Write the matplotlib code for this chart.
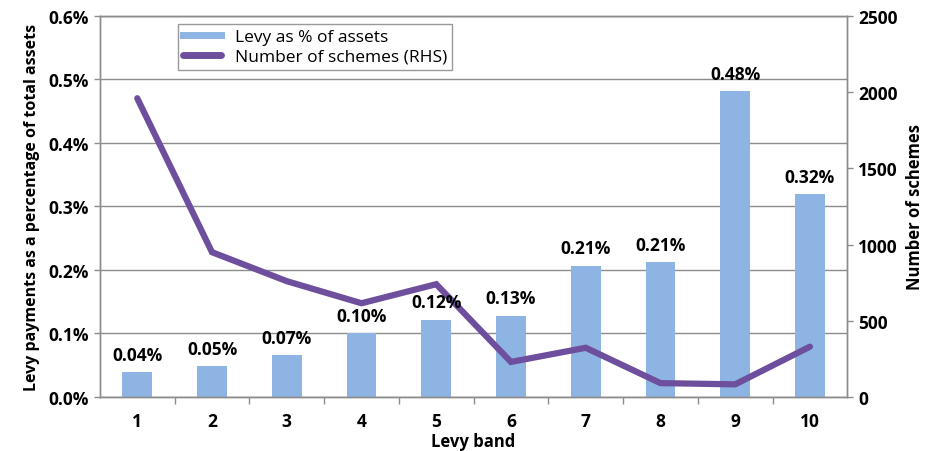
import matplotlib
matplotlib.use("Agg")
import matplotlib.pyplot as plt
from matplotlib.lines import Line2D
from matplotlib.ticker import FuncFormatter, FixedLocator, NullFormatter

plt.rcParams["font.family"] = ["Open Sans", "DejaVu Sans"]

# ── Data ──────────────────────────────────────────────────────
levy_bands = [1, 2, 3, 4, 5, 6, 7, 8, 9, 10]
levy_pct = [0.0395, 0.049, 0.066, 0.100, 0.122, 0.128, 0.207, 0.212, 0.482, 0.319]
num_schemes = [1960, 950, 760, 615, 740, 230, 323, 91, 83, 330]

BAR_COLOR = "#8DB4E2"
LINE_COLOR = "#6E4F9E"
GRID_COLOR = "#8C8C8C"
TICK_FS = 12.5

fig = plt.figure(figsize=(9.25, 4.52), dpi=100)
ax = fig.add_axes([0.108, 0.1195, 0.808, 0.843])
ax2 = ax.twinx()

# ── Bars (left axis) ──────────────────────────────────────────
ax.bar(levy_bands, levy_pct, width=0.4, color=BAR_COLOR, zorder=2)
ax.set_ylim(0, 0.6)
ax.set_xlim(0.5, 10.5)
ax.set_yticks([0.0, 0.1, 0.2, 0.3, 0.4, 0.5, 0.6])
ax.yaxis.set_major_formatter(FuncFormatter(lambda v, _: f"{v:.1f}%"))
ax.grid(axis="y", color=GRID_COLOR, linewidth=1.0, zorder=0)
ax.set_axisbelow(True)

# category labels at centres, tick marks between categories
ax.xaxis.set_major_locator(FixedLocator([b + 0.5 for b in levy_bands[:-1]]))
ax.xaxis.set_major_formatter(NullFormatter())
ax.xaxis.set_minor_locator(FixedLocator(levy_bands))
ax.set_xticklabels([str(b) for b in levy_bands], minor=True)
ax.tick_params(axis="x", which="major", length=5, width=1, color=GRID_COLOR, direction="out")
ax.tick_params(axis="x", which="minor", length=0, pad=11, labelsize=TICK_FS)
ax.tick_params(axis="y", length=4, width=1, color=GRID_COLOR, labelsize=TICK_FS, pad=4)
for lbl in ax.get_xticklabels(minor=True) + ax.get_yticklabels():
    lbl.set_fontweight("bold")

ax.set_xlabel("Levy band", fontsize=12, fontweight="bold", labelpad=1)
ax.set_ylabel("Levy payments as a percentage of total assets", fontsize=11.5,
              fontweight="bold", labelpad=6)

# ── Line (right axis) ─────────────────────────────────────────
ax2.plot(levy_bands, num_schemes, color=LINE_COLOR, linewidth=4.5,
         solid_capstyle="round", solid_joinstyle="miter", zorder=3)
ax2.set_ylim(0, 2500)
ax2.set_yticks([0, 500, 1000, 1500, 2000, 2500])
ax2.tick_params(axis="y", length=4, width=1, color=GRID_COLOR, labelsize=TICK_FS, pad=4)
for lbl in ax2.get_yticklabels():
    lbl.set_fontweight("bold")
ax2.set_ylabel("Number of schemes", fontsize=12, fontweight="bold", labelpad=6)

for a in (ax, ax2):
    for spine in a.spines.values():
        spine.set_color(GRID_COLOR)
        spine.set_linewidth(1.0)

# value labels above bars, drawn over the line
for b, v in zip(levy_bands, levy_pct):
    ax2.annotate(f"{v:.2f}%", xy=(b, v / 0.6 * 2500), xytext=(0, 6),
                 textcoords="offset points", ha="center", va="bottom",
                 fontsize=TICK_FS, fontweight="bold", zorder=5)

# ── Legend ────────────────────────────────────────────────────
handles = [
    Line2D([0], [0], color=BAR_COLOR, linewidth=5),
    Line2D([0], [0], color=LINE_COLOR, linewidth=5, solid_capstyle="round"),
]
leg = ax2.legend(handles, ["Levy as % of assets", "Number of schemes (RHS)"],
                 loc="upper left", bbox_to_anchor=(0.104, 0.979), borderaxespad=0,
                 fontsize=12.5, frameon=True, fancybox=False, handlelength=2.2,
                 borderpad=0.3, labelspacing=0.2, handletextpad=0.8)
leg.get_frame().set_edgecolor("#808080")
leg.get_frame().set_linewidth(1.0)

fig.savefig("out.png", dpi=100)
